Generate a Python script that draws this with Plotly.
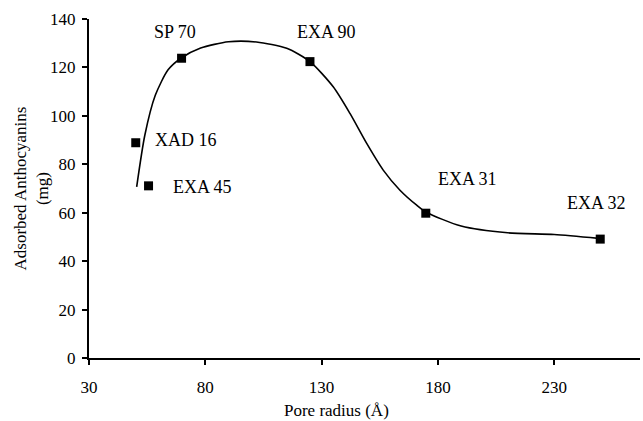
import plotly.graph_objects as go

# Data points (pore radius in Å, adsorbed anthocyanins in mg)
names = ["XAD 16", "EXA 45", "SP 70", "EXA 90", "EXA 31", "EXA 32"]
pore_radius = [50.1, 55.6, 69.8, 125.0, 174.8, 249.8]
adsorbed = [88.9, 71.1, 123.8, 122.4, 59.8, 49.1]

# Smooth trend curve
curve_x = [50.5, 54.0, 58.5, 64.0, 69.5, 78, 90, 102, 115, 125, 135, 142.2, 149.4, 156.5, 163.7, 170.9, 175, 190, 210, 230, 249]
curve_y = [70.7, 92.0, 108.5, 119.0, 123.8, 128.0, 130.6, 130.5, 127.9, 122.4, 112.0, 101.0, 88.6, 77.6, 69.3, 63.1, 60.2, 54.5, 51.7, 51.0, 49.4]

# Label positions (x anchor left/center, y)
label_x = [57.6, 65.1, 67.0, 131.9, 179.2, 234.6]
label_y = [90.0, 70.7, 134.8, 134.5, 73.9, 64.1]
label_anchor = ["left", "left", "center", "center", "left", "left"]

FONT = "Liberation Serif, Times New Roman, serif"

fig = go.Figure()
fig.add_trace(go.Scatter(x=curve_x, y=curve_y, mode="lines",
                         line=dict(color="black", width=1.6, shape="spline", smoothing=0.7),
                         hoverinfo="skip", showlegend=False))
fig.add_trace(go.Scatter(x=pore_radius, y=adsorbed, mode="markers",
                         marker=dict(symbol="square", size=9, color="black"),
                         showlegend=False))

for n, lx, ly, an in zip(names, label_x, label_y, label_anchor):
    fig.add_annotation(x=lx, y=ly, text=n, showarrow=False, xanchor=an, yanchor="middle",
                       font=dict(family=FONT, size=18, color="black"))

fig.add_annotation(x=0, y=0.5, xref="paper", yref="paper", text="Adsorbed Anthocyanins<br>(mg)",
                   textangle=-90, showarrow=False, xanchor="center", yanchor="middle", xshift=-58,
                   font=dict(family=FONT, size=17, color="black"))
fig.add_annotation(x=136.6, y=0, xref="x", yref="paper", text="Pore radius (Å)",
                   showarrow=False, xanchor="center", yanchor="middle", yshift=-52,
                   font=dict(family=FONT, size=17, color="black"))

fig.update_xaxes(range=[30, 266.9], tickvals=[30, 80, 130, 180, 230], showgrid=False, zeroline=False,
                 showline=True, linecolor="black", linewidth=2, ticks="outside", ticklen=5,
                 tickwidth=2, tickcolor="black", ticklabelstandoff=8,
                 tickfont=dict(family=FONT, size=17, color="black"))
fig.update_yaxes(range=[0, 140], tickvals=list(range(0, 141, 20)), showgrid=False, zeroline=False,
                 showline=True, linecolor="black", linewidth=2, ticks="outside", ticklen=5,
                 tickwidth=2, tickcolor="black", ticklabelstandoff=3,
                 tickfont=dict(family=FONT, size=17, color="black"))

fig.update_layout(width=643, height=421, margin=dict(l=89, r=3, t=19, b=63),
                  plot_bgcolor="white", paper_bgcolor="white")

fig.write_html("out.html")
